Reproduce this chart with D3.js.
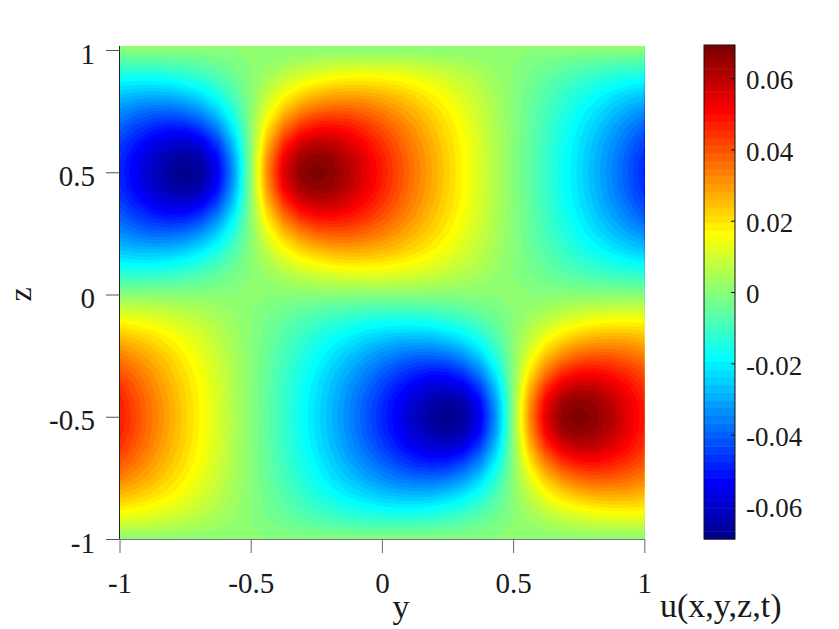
<!DOCTYPE html>
<html>
<head>
<meta charset="utf-8">
<script src="https://cdn.jsdelivr.net/npm/d3@7"></script>
<style>
  body { margin: 0; background: #fff; }
  text { font-family: "Liberation Serif", "Times New Roman", serif; fill: #1a1a1a; }
</style>
</head>
<body>
<div id="chart"></div>
<script>
// sample positions of the field: y across, z from top (1) to bottom (-1)
const yGrid = d3.range(33).map(i => -1 + i / 16);
const zGrid = d3.range(33).map(j => 1 - j / 16);

// u(x,y,z,t), in units of 1e-3, one row per zGrid value
const uRows = [
  [0,0,0,0,0,0,0,0,0,0,0,0,0,0,0,0,0,0,0,0,0,0,0,0,0,0,0,0,0,0,0,0,0],
  [-9.4,-9.4,-9.1,-8.4,-7.3,-5.9,-4.1,-2.1,0,2.1,4.1,5.9,7.3,8.4,9.1,9.4,9.4,8.9,8.2,7.2,6.0,4.7,3.2,1.6,0,-1.6,-3.2,-4.7,-6.0,-7.2,-8.2,-8.9,-9.4],
  [-18.4,-19.1,-19.0,-18.0,-16.1,-13.3,-9.4,-4.9,0,4.9,9.4,13.3,16.1,18.0,19.0,19.1,18.4,17.1,15.4,13.2,10.9,8.3,5.6,2.8,0,-2.8,-5.6,-8.3,-10.9,-13.2,-15.4,-17.1,-18.4],
  [-26.7,-28.4,-29.1,-28.5,-26.3,-22.2,-16.2,-8.6,0,8.6,16.2,22.2,26.3,28.5,29.1,28.4,26.7,24.3,21.4,18.1,14.7,11.1,7.5,3.7,0,-3.7,-7.5,-11.1,-14.7,-18.1,-21.4,-24.3,-26.7],
  [-33.9,-37.0,-39.0,-39.3,-37.5,-32.7,-24.5,-13.2,0,13.2,24.5,32.7,37.5,39.3,39.0,37.0,33.9,30.3,26.2,22.0,17.6,13.3,8.8,4.4,0,-4.4,-8.8,-13.3,-17.6,-22.0,-26.2,-30.3,-33.9],
  [-39.9,-44.3,-47.8,-49.7,-48.9,-44.1,-34.2,-18.8,0,18.8,34.2,44.1,48.9,49.7,47.8,44.3,39.9,35.0,30.0,24.9,19.8,14.8,9.8,4.9,0,-4.9,-9.8,-14.8,-19.8,-24.9,-30.0,-35.0,-39.9],
  [-44.4,-50.0,-55.0,-58.5,-59.2,-55.2,-44.1,-24.9,0,24.9,44.1,55.2,59.2,58.5,55.0,50.0,44.4,38.5,32.7,26.9,21.3,15.9,10.5,5.2,0,-5.2,-10.5,-15.9,-21.3,-26.9,-32.7,-38.5,-44.4],
  [-47.1,-53.6,-59.6,-64.4,-66.5,-63.4,-51.9,-29.9,0,29.9,51.9,63.4,66.5,64.4,59.6,53.6,47.1,40.6,34.2,28.1,22.2,16.5,10.9,5.4,0,-5.4,-10.9,-16.5,-22.2,-28.1,-34.2,-40.6,-47.1],
  [-48.0,-54.8,-61.2,-66.5,-69.1,-66.4,-54.9,-31.9,0,31.9,54.9,66.4,69.1,66.5,61.2,54.8,48.0,41.3,34.8,28.5,22.5,16.7,11.0,5.5,0,-5.5,-11.0,-16.7,-22.5,-28.5,-34.8,-41.3,-48.0],
  [-47.1,-53.6,-59.6,-64.4,-66.5,-63.4,-51.9,-29.9,0,29.9,51.9,63.4,66.5,64.4,59.6,53.6,47.1,40.6,34.2,28.1,22.2,16.5,10.9,5.4,0,-5.4,-10.9,-16.5,-22.2,-28.1,-34.2,-40.6,-47.1],
  [-44.4,-50.0,-55.0,-58.5,-59.2,-55.2,-44.1,-24.9,0,24.9,44.1,55.2,59.2,58.5,55.0,50.0,44.4,38.5,32.7,26.9,21.3,15.9,10.5,5.2,0,-5.2,-10.5,-15.9,-21.3,-26.9,-32.7,-38.5,-44.4],
  [-39.9,-44.3,-47.8,-49.7,-48.9,-44.1,-34.2,-18.8,0,18.8,34.2,44.1,48.9,49.7,47.8,44.3,39.9,35.0,30.0,24.9,19.8,14.8,9.8,4.9,0,-4.9,-9.8,-14.8,-19.8,-24.9,-30.0,-35.0,-39.9],
  [-33.9,-37.0,-39.0,-39.3,-37.5,-32.7,-24.5,-13.2,0,13.2,24.5,32.7,37.5,39.3,39.0,37.0,33.9,30.3,26.2,22.0,17.6,13.3,8.8,4.4,0,-4.4,-8.8,-13.3,-17.6,-22.0,-26.2,-30.3,-33.9],
  [-26.7,-28.4,-29.1,-28.5,-26.3,-22.2,-16.2,-8.6,0,8.6,16.2,22.2,26.3,28.5,29.1,28.4,26.7,24.3,21.4,18.1,14.7,11.1,7.5,3.7,0,-3.7,-7.5,-11.1,-14.7,-18.1,-21.4,-24.3,-26.7],
  [-18.4,-19.1,-19.0,-18.0,-16.1,-13.3,-9.4,-4.9,0,4.9,9.4,13.3,16.1,18.0,19.0,19.1,18.4,17.1,15.4,13.2,10.9,8.3,5.6,2.8,0,-2.8,-5.6,-8.3,-10.9,-13.2,-15.4,-17.1,-18.4],
  [-9.4,-9.4,-9.1,-8.4,-7.3,-5.9,-4.1,-2.1,0,2.1,4.1,5.9,7.3,8.4,9.1,9.4,9.4,8.9,8.2,7.2,6.0,4.7,3.2,1.6,0,-1.6,-3.2,-4.7,-6.0,-7.2,-8.2,-8.9,-9.4],
  [0,0,0,0,0,0,0,0,0,0,0,0,0,0,0,0,0,0,0,0,0,0,0,0,0,0,0,0,0,0,0,0,0],
  [9.4,8.9,8.2,7.2,6.0,4.7,3.2,1.6,0,-1.6,-3.2,-4.7,-6.0,-7.2,-8.2,-8.9,-9.4,-9.4,-9.1,-8.4,-7.3,-5.9,-4.1,-2.1,0,2.1,4.1,5.9,7.3,8.4,9.1,9.4,9.4],
  [18.4,17.1,15.4,13.2,10.9,8.3,5.6,2.8,0,-2.8,-5.6,-8.3,-10.9,-13.2,-15.4,-17.1,-18.4,-19.1,-19.0,-18.0,-16.1,-13.3,-9.4,-4.9,0,4.9,9.4,13.3,16.1,18.0,19.0,19.1,18.4],
  [26.7,24.3,21.4,18.1,14.7,11.1,7.5,3.7,0,-3.7,-7.5,-11.1,-14.7,-18.1,-21.4,-24.3,-26.7,-28.4,-29.1,-28.5,-26.3,-22.2,-16.2,-8.6,0,8.6,16.2,22.2,26.3,28.5,29.1,28.4,26.7],
  [33.9,30.3,26.2,22.0,17.6,13.3,8.8,4.4,0,-4.4,-8.8,-13.3,-17.6,-22.0,-26.2,-30.3,-33.9,-37.0,-39.0,-39.3,-37.5,-32.7,-24.5,-13.2,0,13.2,24.5,32.7,37.5,39.3,39.0,37.0,33.9],
  [39.9,35.0,30.0,24.9,19.8,14.8,9.8,4.9,0,-4.9,-9.8,-14.8,-19.8,-24.9,-30.0,-35.0,-39.9,-44.3,-47.8,-49.7,-48.9,-44.1,-34.2,-18.8,0,18.8,34.2,44.1,48.9,49.7,47.8,44.3,39.9],
  [44.4,38.5,32.7,26.9,21.3,15.9,10.5,5.2,0,-5.2,-10.5,-15.9,-21.3,-26.9,-32.7,-38.5,-44.4,-50.0,-55.0,-58.5,-59.2,-55.2,-44.1,-24.9,0,24.9,44.1,55.2,59.2,58.5,55.0,50.0,44.4],
  [47.1,40.6,34.2,28.1,22.2,16.5,10.9,5.4,0,-5.4,-10.9,-16.5,-22.2,-28.1,-34.2,-40.6,-47.1,-53.6,-59.6,-64.4,-66.5,-63.4,-51.9,-29.9,0,29.9,51.9,63.4,66.5,64.4,59.6,53.6,47.1],
  [48.0,41.3,34.8,28.5,22.5,16.7,11.0,5.5,0,-5.5,-11.0,-16.7,-22.5,-28.5,-34.8,-41.3,-48.0,-54.8,-61.2,-66.5,-69.1,-66.4,-54.9,-31.9,0,31.9,54.9,66.4,69.1,66.5,61.2,54.8,48.0],
  [47.1,40.6,34.2,28.1,22.2,16.5,10.9,5.4,0,-5.4,-10.9,-16.5,-22.2,-28.1,-34.2,-40.6,-47.1,-53.6,-59.6,-64.4,-66.5,-63.4,-51.9,-29.9,0,29.9,51.9,63.4,66.5,64.4,59.6,53.6,47.1],
  [44.4,38.5,32.7,26.9,21.3,15.9,10.5,5.2,0,-5.2,-10.5,-15.9,-21.3,-26.9,-32.7,-38.5,-44.4,-50.0,-55.0,-58.5,-59.2,-55.2,-44.1,-24.9,0,24.9,44.1,55.2,59.2,58.5,55.0,50.0,44.4],
  [39.9,35.0,30.0,24.9,19.8,14.8,9.8,4.9,0,-4.9,-9.8,-14.8,-19.8,-24.9,-30.0,-35.0,-39.9,-44.3,-47.8,-49.7,-48.9,-44.1,-34.2,-18.8,0,18.8,34.2,44.1,48.9,49.7,47.8,44.3,39.9],
  [33.9,30.3,26.2,22.0,17.6,13.3,8.8,4.4,0,-4.4,-8.8,-13.3,-17.6,-22.0,-26.2,-30.3,-33.9,-37.0,-39.0,-39.3,-37.5,-32.7,-24.5,-13.2,0,13.2,24.5,32.7,37.5,39.3,39.0,37.0,33.9],
  [26.7,24.3,21.4,18.1,14.7,11.1,7.5,3.7,0,-3.7,-7.5,-11.1,-14.7,-18.1,-21.4,-24.3,-26.7,-28.4,-29.1,-28.5,-26.3,-22.2,-16.2,-8.6,0,8.6,16.2,22.2,26.3,28.5,29.1,28.4,26.7],
  [18.4,17.1,15.4,13.2,10.9,8.3,5.6,2.8,0,-2.8,-5.6,-8.3,-10.9,-13.2,-15.4,-17.1,-18.4,-19.1,-19.0,-18.0,-16.1,-13.3,-9.4,-4.9,0,4.9,9.4,13.3,16.1,18.0,19.0,19.1,18.4],
  [9.4,8.9,8.2,7.2,6.0,4.7,3.2,1.6,0,-1.6,-3.2,-4.7,-6.0,-7.2,-8.2,-8.9,-9.4,-9.4,-9.1,-8.4,-7.3,-5.9,-4.1,-2.1,0,2.1,4.1,5.9,7.3,8.4,9.1,9.4,9.4],
  [0,0,0,0,0,0,0,0,0,0,0,0,0,0,0,0,0,0,0,0,0,0,0,0,0,0,0,0,0,0,0,0,0]
];

const yTicks = [-1, -0.5, 0, 0.5, 1];
const zTicks = [-1, -0.5, 0, 0.5, 1];
const cbTicks = [-0.06, -0.04, -0.02, 0, 0.02, 0.04, 0.06];
const cRange = [-0.0693, 0.0693];
const nLevels = 64;

// MATLAB style jet(m) colormap
function jet(m) {
  const n = Math.ceil(m / 4);
  const u = [
    ...d3.range(1, n + 1).map(i => i / n),
    ...Array(n - 1).fill(1),
    ...d3.range(n, 0, -1).map(i => i / n)
  ];
  const g0 = Math.ceil(n / 2) - (m % 4 === 1 ? 1 : 0);
  const cols = d3.range(m).map(() => [0, 0, 0]);
  u.forEach((v, i) => {
    const g = g0 + i, r = g + n, b = g - n;
    if (r >= 0 && r < m) cols[r][0] = v;
    if (g >= 0 && g < m) cols[g][1] = v;
    if (b >= 0 && b < m) cols[b][2] = v;
  });
  return cols.map(c => d3.rgb(c[0] * 255, c[1] * 255, c[2] * 255).formatHex());
}
const colors = jet(nLevels);

const W = 839, H = 629;
const svg = d3.select("#chart").append("svg")
  .attr("width", W)
  .attr("height", H);

const x = d3.scaleLinear().domain([-1, 1]).range([119.5, 644.3]);
const z = d3.scaleLinear().domain([-1, 1]).range([539, 50]);
const cb = d3.scaleLinear().domain(cRange).range([539, 45]);

// filled contours
const flat = uRows.flat().map(v => v / 1000);
const levels = d3.range(nLevels).map(k => cRange[0] + k * (cRange[1] - cRange[0]) / nLevels);
const contours = d3.contours()
  .size([yGrid.length, zGrid.length])
  .thresholds(levels)(flat);

const dY = yGrid[1] - yGrid[0], dZ = zGrid[1] - zGrid[0];
const path = d3.geoPath(d3.geoTransform({
  point(px, py) {
    this.stream.point(x(yGrid[0] + (px - 0.5) * dY), z(zGrid[0] + (py - 0.5) * dZ));
  }
}));

const plotTop = z(1) - 4;
svg.append("clipPath").attr("id", "plotclip")
  .append("rect")
  .attr("x", x(-1)).attr("y", plotTop)
  .attr("width", x(1) - x(-1)).attr("height", z(-1) - plotTop);

const field = svg.append("g").attr("clip-path", "url(#plotclip)");
field.selectAll("path")
  .data(contours)
  .enter()
  .append("path")
  .attr("d", path)
  .attr("fill", (d, i) => colors[i])
  .attr("stroke", "none");

// axes
const axL = svg.append("g")
  .attr("transform", `translate(${x(-1)},0)`)
  .call(d3.axisLeft(z).tickValues(zTicks).tickSize(13.5).tickSizeOuter(0).tickPadding(11).tickFormat(d => String(d)));
axL.select(".domain").attr("stroke", "#222").attr("d", `M0,${plotTop}V${z(-1)}`);
axL.selectAll(".tick line").attr("stroke", "#555");
axL.selectAll("text").attr("font-size", 29).attr("dy", "0.45em")
  .style("font-family", '"Liberation Serif", serif').attr("fill", "#1a1a1a");

const axB = svg.append("g")
  .attr("transform", `translate(0,${z(-1)})`)
  .call(d3.axisBottom(x).tickValues(yTicks).tickSize(14).tickSizeOuter(0).tickFormat(d => String(d)));
axB.select(".domain").attr("stroke", "#777");
axB.selectAll(".tick line").attr("stroke", "#666");
axB.selectAll("text").attr("font-size", 29).attr("y", 54).attr("dy", 0)
  .style("font-family", '"Liberation Serif", serif').attr("fill", "#1a1a1a");

// colorbar
const cbX = 704, cbW = 31;
svg.append("g").selectAll("rect")
  .data(levels)
  .enter()
  .append("rect")
  .attr("x", cbX)
  .attr("y", (d, i) => cb(i < nLevels - 1 ? levels[i + 1] : cRange[1]))
  .attr("width", cbW)
  .attr("height", (d, i) => cb(d) - cb(i < nLevels - 1 ? levels[i + 1] : cRange[1]) + 0.5)
  .attr("fill", (d, i) => colors[i]);

svg.append("rect")
  .attr("x", cbX).attr("y", cb(cRange[1]))
  .attr("width", cbW).attr("height", cb(cRange[0]) - cb(cRange[1]))
  .attr("fill", "none").attr("stroke", "#111").attr("stroke-width", 1);

const axC = svg.append("g")
  .attr("transform", `translate(${cbX + cbW},0)`)
  .call(d3.axisRight(cb).tickValues(cbTicks).tickSize(-4).tickSizeOuter(0).tickPadding(11).tickFormat(d => String(d)));
axC.select(".domain").remove();
axC.selectAll(".tick line").attr("stroke", "#111");
axC.selectAll("text").attr("font-size", 27).attr("dy", "0.4em")
  .style("font-family", '"Liberation Serif", serif').attr("fill", "#1a1a1a");

// axis titles
svg.append("text")
  .attr("transform", `translate(31,${z(0)}) rotate(-90)`)
  .attr("text-anchor", "middle")
  .attr("font-size", 32)
  .text("z");

svg.append("text")
  .attr("x", 401).attr("y", 618)
  .attr("text-anchor", "middle")
  .attr("font-size", 34)
  .text("y");

svg.append("text")
  .attr("x", 660).attr("y", 617)
  .attr("font-size", 34)
  .text("u(x,y,z,t)");
</script>
</body>
</html>
